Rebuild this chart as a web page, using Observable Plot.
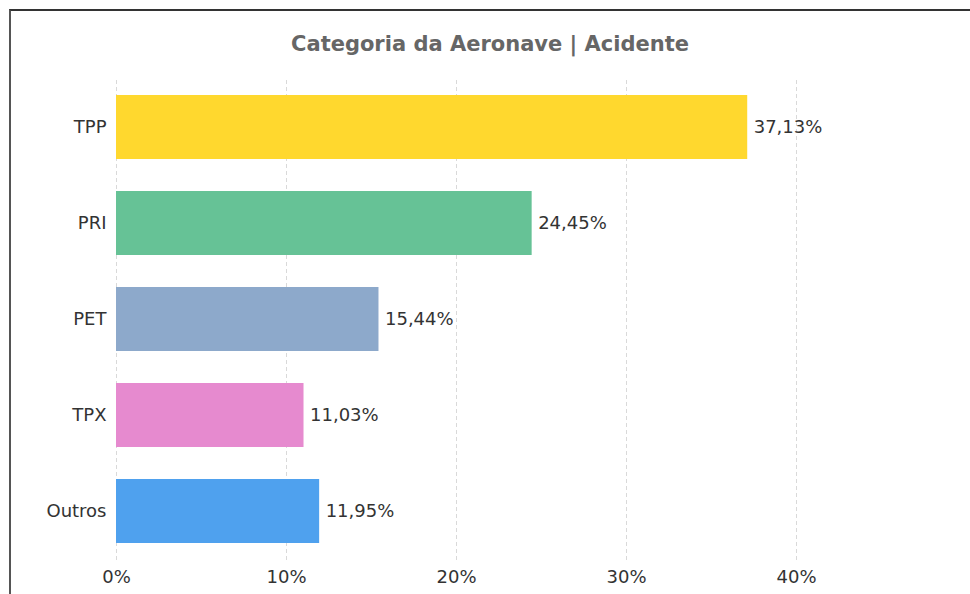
<!DOCTYPE html>
<html>
<head>
<meta charset="utf-8">
<script src="https://cdn.jsdelivr.net/npm/d3@7"></script>
<script src="https://cdn.jsdelivr.net/npm/@observablehq/plot@0.6"></script>
<style>
  html, body { margin: 0; padding: 0; background: #fff; width: 970px; height: 594px; overflow: hidden; }
  #frame { position: absolute; left: 9px; top: 9px; width: 961px; height: 585px; border-top: 2px solid #333; border-left: 2px solid #555; box-sizing: border-box; }
  #title { position: absolute; left: 10px; width: 960px; top: 31px; text-align: center; font-family: "DejaVu Sans", sans-serif; font-weight: bold; font-size: 21px; line-height: 26px; color: #666; }
  #chart { position: absolute; left: 0; top: 64px; }
</style>
</head>
<body>
<div id="frame"></div>
<div id="title">Categoria da Aeronave | Acidente</div>
<div id="chart"></div>
<script>
const categories = ["TPP", "PRI", "PET", "TPX", "Outros"];
const values = [37.13, 24.45, 15.44, 11.03, 11.95];
const colors = ["#FFD82E", "#66C296", "#8DA9CB", "#E68ACF", "#4FA1EE"];
const xTicks = [0, 10, 20, 30, 40];

const data = categories.map((c, i) => ({
  cat: c,
  value: values[i],
  color: colors[i],
  label: values[i].toFixed(2).replace(".", ",") + "%"
}));

const chart = Plot.plot({
  width: 970,
  height: 530,
  marginLeft: 116,
  marginRight: 4,
  marginTop: 15,
  marginBottom: 35,
  style: { fontFamily: "DejaVu Sans, sans-serif", fontSize: "18px", color: "#333", background: "transparent" },
  x: { domain: [0, 50], ticks: xTicks, tickFormat: d => d + "%", label: null, tickSize: 0, tickPadding: 11 },
  y: { domain: categories, paddingInner: 1 / 3, paddingOuter: 1 / 6, label: null, tickSize: 0, tickPadding: 10 },
  color: { type: "identity" },
  marks: [
    Plot.ruleX(xTicks, { stroke: "#d9d9d9", strokeWidth: 1, strokeDasharray: "4,3", insetBottom: -4, insetTop: 1 }),
    Plot.barX(data, { x: "value", y: "cat", fill: "color" }),
    Plot.text(data, { x: "value", y: "cat", text: "label", textAnchor: "start", dx: 6, fill: "#333" })
  ]
});
document.getElementById("chart").appendChild(chart);
</script>
</body>
</html>
